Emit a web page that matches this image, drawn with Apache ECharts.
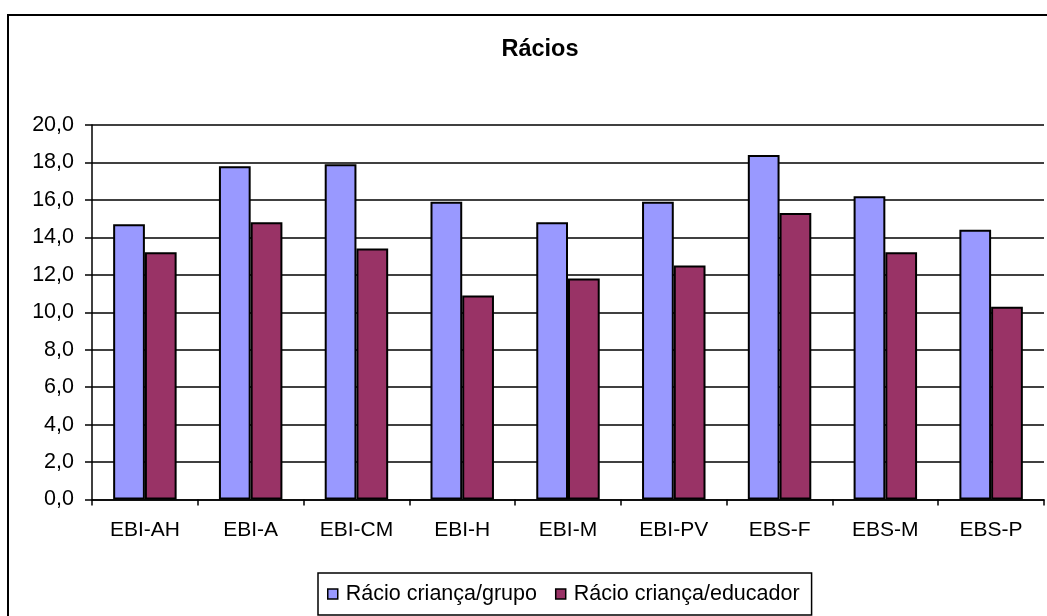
<!DOCTYPE html>
<html>
<head>
<meta charset="utf-8">
<script src="https://cdn.jsdelivr.net/npm/echarts@6/dist/echarts.min.js"></script>
<style>
  html, body { margin: 0; padding: 0; background: #ffffff; }
  #chart { width: 1047px; height: 616px; }
</style>
</head>
<body>
<div id="chart"></div>
<script>
// Schools and the two ratios per school
const categories = ['EBI-AH', 'EBI-A', 'EBI-CM', 'EBI-H', 'EBI-M', 'EBI-PV', 'EBS-F', 'EBS-M', 'EBS-P'];
const racioGrupo = [14.7, 17.8, 17.9, 15.9, 14.8, 15.9, 18.4, 16.2, 14.4];
const racioEducador = [13.2, 14.8, 13.4, 10.9, 11.8, 12.5, 15.3, 13.2, 10.3];
const seriesNames = ['Rácio criança/grupo', 'Rácio criança/educador'];
const yTicks = { min: 0, max: 20, interval: 2 };

const FONT = '"Liberation Sans", Arial, sans-serif';
const chart = echarts.init(document.getElementById('chart'), null, { renderer: 'canvas' });

chart.setOption({
  animation: false,
  backgroundColor: '#ffffff',
  graphic: [{
    type: 'rect',
    z: -1,
    shape: { x: 8, y: 15, width: 1100, height: 700 },
    style: { fill: 'none', stroke: '#000000', lineWidth: 2 }
  }],
  title: {
    text: 'Rácios',
    left: 535,
    top: 33,
    textAlign: 'center',
    textStyle: { fontFamily: FONT, fontSize: 23.5, fontWeight: 'bold', color: '#000000' }
  },
  legend: {
    data: seriesNames,
    left: 318,
    bottom: 1,
    orient: 'horizontal',
    padding: [10, 12, 10, 9],
    itemGap: 18,
    itemWidth: 10,
    itemHeight: 10,
    borderColor: '#000000',
    borderWidth: 1.5,
    icon: 'rect',
    itemStyle: { borderColor: '#000000', borderWidth: 1.5 },
    textStyle: { fontFamily: FONT, fontSize: 21.5, color: '#000000', padding: [0, 0, 0, 3] }
  },
  grid: { left: 92, right: 3, top: 125, bottom: 116.5, containLabel: false },
  xAxis: {
    type: 'category',
    data: categories,
    axisLine: { show: true, lineStyle: { color: '#000000', width: 1.5 } },
    axisTick: { show: true, length: 6, lineStyle: { color: '#000000', width: 1.5 } },
    axisLabel: { margin: 20, fontFamily: FONT, fontSize: 21, color: '#000000' }
  },
  yAxis: {
    type: 'value',
    min: yTicks.min,
    max: yTicks.max,
    interval: yTicks.interval,
    axisLine: { show: true, lineStyle: { color: '#000000', width: 1.5 } },
    axisTick: { show: true, length: 7, lineStyle: { color: '#000000', width: 1.5 } },
    axisLabel: {
      margin: 18,
      fontFamily: FONT,
      fontSize: 21.5,
      color: '#000000',
      formatter: v => v.toFixed(1).replace('.', ',')
    },
    splitLine: { show: true, lineStyle: { color: '#000000', width: 1.5 } }
  },
  series: [
    {
      name: seriesNames[0],
      type: 'bar',
      data: racioGrupo,
      barGap: '0%',
      barCategoryGap: '40%',
      itemStyle: { color: '#9999FF', borderColor: '#000000', borderWidth: 2 }
    },
    {
      name: seriesNames[1],
      type: 'bar',
      data: racioEducador,
      itemStyle: { color: '#993366', borderColor: '#000000', borderWidth: 2 }
    }
  ]
});
</script>
</body>
</html>
